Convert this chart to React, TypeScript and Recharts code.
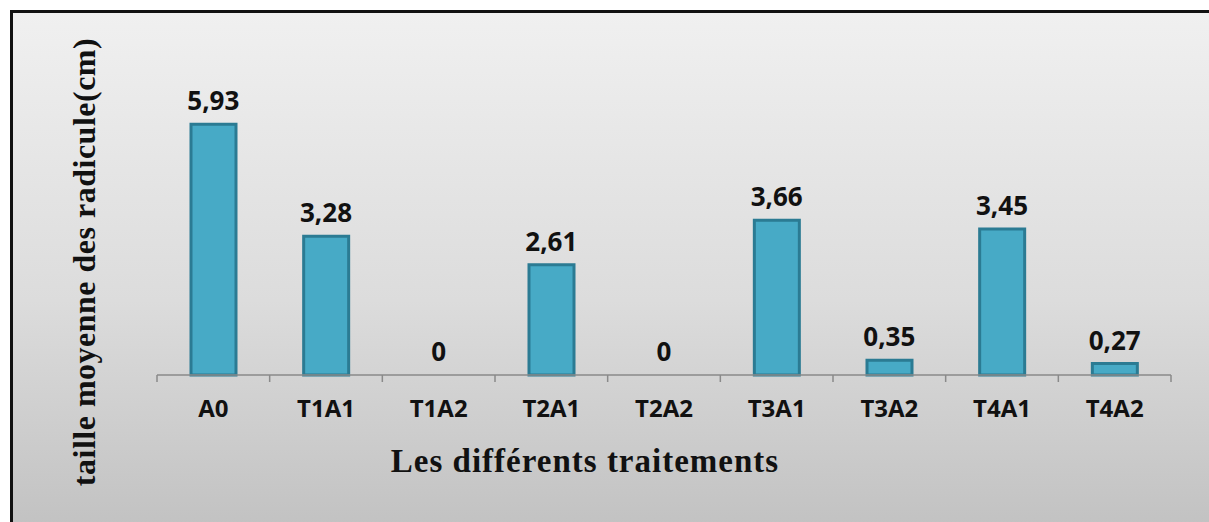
import React from 'react';
import { ComposedChart, Bar, Line, XAxis, YAxis, LabelList } from 'recharts';

// treatments and mean radicle length (cm)
const categories = ['A0', 'T1A1', 'T1A2', 'T2A1', 'T2A2', 'T3A1', 'T3A2', 'T4A1', 'T4A2'];
const tailleMoyenne = [5.93, 3.28, 0, 2.61, 0, 3.66, 0.35, 3.45, 0.27];

const data = categories.map((traitement, i) => ({ traitement, taille: tailleMoyenne[i] }));

const W = 1209;
const H = 522;
const X_AXIS_H = 30;
const margin = { top: 79, right: 38, bottom: 147 - X_AXIS_H, left: 157 };
const band = (W - margin.left - margin.right) / categories.length;

const labelFont = '"Open Sans", sans-serif';
const titleFont = '"Liberation Serif", "Times New Roman", serif';

// category label plus the small tick marks on the band boundaries
const CategoryTick = (props: any) => {
  const { x, y, payload, index } = props;
  const left = x - band / 2;
  const right = x + band / 2;
  return (
    <g>
      <line x1={left} y1={y} x2={left} y2={y + 7} stroke="#8a8a8a" strokeWidth={1.5} />
      {index === categories.length - 1 && (
        <line x1={right} y1={y} x2={right} y2={y + 7} stroke="#8a8a8a" strokeWidth={1.5} />
      )}
      <text x={x} y={y + 42} textAnchor="middle" fontFamily={labelFont} fontWeight="bold" fontSize={24} fill="#111">
        {payload.value}
      </text>
    </g>
  );
};

const App: React.FC = () => {
  return (
    <div style={{ position: 'absolute', left: 0, top: 0, width: W, height: H, background: '#fff', overflow: 'hidden' }}>
      <div
        style={{
          position: 'absolute',
          left: 10,
          top: 10,
          width: W,
          height: H,
          borderTop: '3px solid #111',
          borderLeft: '3px solid #111',
          background: 'linear-gradient(to bottom, #f0f0f0 0%, #dcdcdc 55%, #c1c1c1 100%)',
        }}
      />
      <div style={{ position: 'absolute', left: 0, top: 0 }}>
        <ComposedChart width={W} height={H} data={data} margin={margin}>
          <XAxis
            dataKey="traitement"
            height={X_AXIS_H}
            tick={<CategoryTick />}
            tickLine={false}
            tickSize={0}
            tickMargin={0}
            axisLine={{ stroke: '#8a8a8a', strokeWidth: 1.5 }}
            interval={0}
          />
          <YAxis hide domain={[0, 7]} />
          <Bar dataKey="taille" fill="#47aac6" stroke="#2b7b93" strokeWidth={3} barSize={45} isAnimationActive={false} />
          {/* invisible line only to carry the value labels (also for the zero bars) */}
          <Line dataKey="taille" stroke="none" dot={false} activeDot={false} isAnimationActive={false}>
            <LabelList
              dataKey="taille"
              position="top"
              offset={14}
              formatter={(v: any) => String(v).replace('.', ',')}
              style={{ fontFamily: labelFont, fontWeight: 'bold', fontSize: 26, fill: '#111' }}
            />
          </Line>
        </ComposedChart>
      </div>
      <div
        style={{
          position: 'absolute',
          left: 585,
          top: 461,
          transform: 'translate(-50%, -50%)',
          fontFamily: titleFont,
          fontWeight: 'bold',
          fontSize: 33,
          letterSpacing: 1,
          whiteSpace: 'nowrap',
          color: '#111',
        }}
      >
        Les différents traitements
      </div>
      <div
        style={{
          position: 'absolute',
          left: 84,
          top: 262,
          transform: 'translate(-50%, -50%) rotate(-90deg)',
          fontFamily: titleFont,
          fontWeight: 'bold',
          fontSize: 32,
          letterSpacing: 0.5,
          whiteSpace: 'nowrap',
          color: '#111',
        }}
      >
        taille moyenne des radicule(cm)
      </div>
    </div>
  );
};

export default App;
